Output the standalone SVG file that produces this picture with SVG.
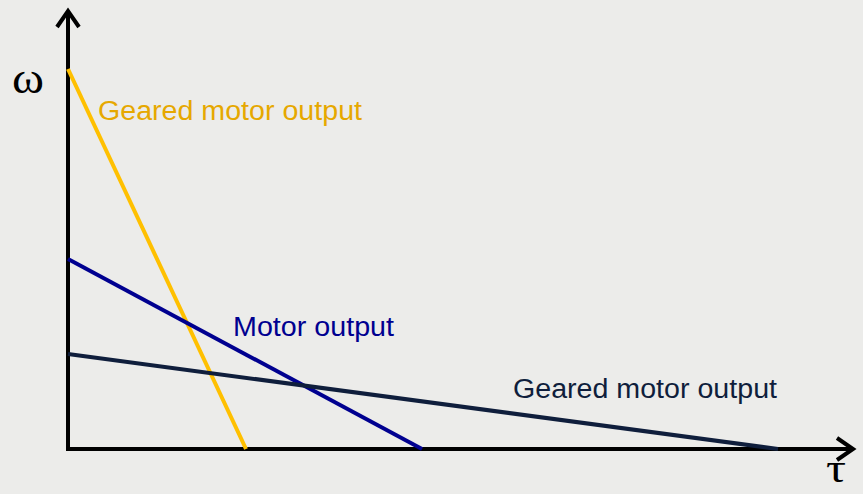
<svg xmlns="http://www.w3.org/2000/svg" width="863" height="494" viewBox="0 0 863 494">
<style>
.ax{stroke:#000;stroke-width:4;fill:none;stroke-linecap:butt}
.ah{stroke:#000;stroke-width:4;fill:none;stroke-linejoin:miter}
.ln{stroke-width:4;fill:none}
.lbl{font-family:"Liberation Sans",Arial,"DejaVu Sans",sans-serif;font-size:27px}
.sym{font-family:"Liberation Serif","Times New Roman","DejaVu Serif",serif;fill:#000}
</style>
<rect width="863" height="494" fill="#ECECEA"/>
<g id="axes">
<line class="ax" x1="68" y1="451" x2="68" y2="12"/>
<polyline class="ah" points="57,27 68,11 79,27"/>
<line class="ax" x1="66" y1="449" x2="852" y2="449"/>
<polyline class="ah" points="837,438 853,449 837,460"/>
<text class="sym" x="12" y="93" font-size="44" textLength="32" lengthAdjust="spacingAndGlyphs">ω</text>
<text class="sym" x="826" y="482" font-size="40" textLength="20" lengthAdjust="spacingAndGlyphs">τ</text>
</g>
<g id="connectors">
<line class="ln" stroke="#FFC000" x1="68" y1="69" x2="246" y2="449"/>
<line class="ln" stroke="#000090" x1="68" y1="259" x2="422" y2="449"/>
<line class="ln" stroke="#0F1E3C" x1="68" y1="354" x2="778" y2="449"/>
</g>
<g id="label-geared-1"><text class="lbl" x="98" y="120" fill="#E6A800" textLength="264" lengthAdjust="spacingAndGlyphs">Geared motor output</text></g>
<g id="label-motor"><text class="lbl" x="233" y="336" fill="#000090" textLength="161" lengthAdjust="spacingAndGlyphs">Motor output</text></g>
<g id="label-geared-2"><text class="lbl" x="513" y="398" fill="#0F1E3C" textLength="264" lengthAdjust="spacingAndGlyphs">Geared motor output</text></g>
</svg>
